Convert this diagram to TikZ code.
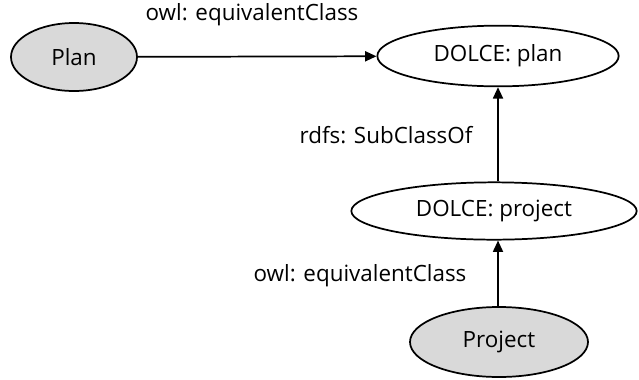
\documentclass[tikz,border=0pt]{standalone}
\usepackage{fontspec}
\setmainfont{Open Sans}
\usetikzlibrary{shapes.geometric,arrows.meta}
\definecolor{classgray}{RGB}{217,217,217}
\begin{document}
\begin{tikzpicture}[x=0.75pt, y=-0.75pt, font=\fontsize{16.8}{19}\selectfont, >={Triangle[length=8.5pt,width=7.5pt]},
  cls/.style={ellipse, draw, line width=1.3pt, inner sep=0pt},
  local/.style={cls, fill=classgray},
  rel/.style={->, line width=1.3pt}]
\useasboundingbox (0,0) rectangle (639,379);
\node[local, minimum width=94.5pt, minimum height=51pt] (plan) at (74,57) {Plan};
\node[cls, minimum width=181pt, minimum height=45.5pt] (dplan) at (498,56) {DOLCE: plan};
\node[cls, minimum width=214pt, minimum height=43pt] (dproject) at (494,211) {DOLCE: project};
\node[local, minimum width=133.5pt, minimum height=52.5pt] (project) at (499,342) {Project};
\draw[rel] (plan) -- (dplan);
\draw[rel] (dproject.north -| dplan.south) -- (dplan.south);
\draw[rel] (project.north -| dplan.south) -- (dproject.south -| dplan.south);
\node (eq1) at (252,15) {owl: equivalentClass};
\node (sub) at (386,135) {rdfs: SubClassOf};
\node (eq2) at (360,276) {owl: equivalentClass};
\end{tikzpicture}
\end{document}
